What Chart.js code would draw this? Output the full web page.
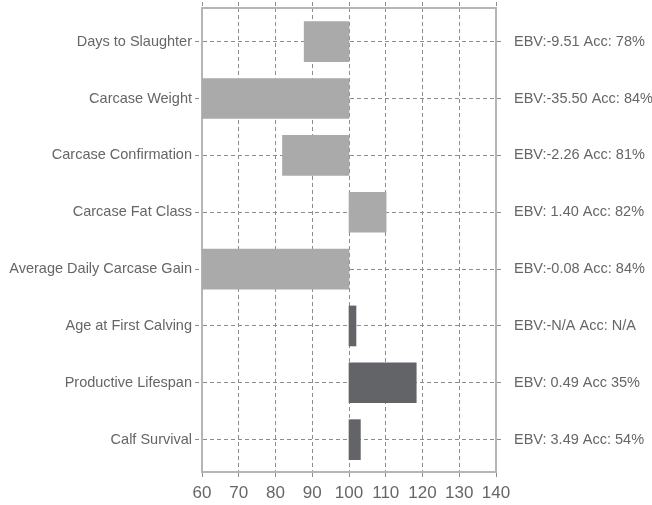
<!DOCTYPE html>
<html>
<head>
<meta charset="utf-8">
<script src="https://cdn.jsdelivr.net/npm/chart.js@4"></script>
<style>
  html, body { margin: 0; padding: 0; background: #fff; }
  #wrap { width: 652px; height: 505px; position: relative; }
</style>
</head>
<body>
<div id="wrap"><canvas id="ebvChart"></canvas></div>
<script>
// ---- data ----
const traits = [
  'Days to Slaughter',
  'Carcase Weight',
  'Carcase Confirmation',
  'Carcase Fat Class',
  'Average Daily Carcase Gain',
  'Age at First Calving',
  'Productive Lifespan',
  'Calf Survival'
];
const ebvLabels = [
  'EBV:-9.51 Acc: 78%',
  'EBV:-35.50 Acc: 84%',
  'EBV:-2.26 Acc: 81%',
  'EBV: 1.40 Acc: 82%',
  'EBV:-0.08 Acc: 84%',
  'EBV:-N/A Acc: N/A',
  'EBV: 0.49 Acc 35%',
  'EBV: 3.49 Acc: 54%'
];
const baseValue = 100;
const indexValues = [87.8, 60, 81.9, 110.1, 60, 101.9, 118.3, 103.1];
const xTicks = [60, 70, 80, 90, 100, 110, 120, 130, 140];

const LIGHT = '#aaaaaa';
const DARK = '#636468';
const barColors = traits.map((_, i) => i < 5 ? LIGHT : DARK);

const GRID = '#8c8c8c';
const FRAME = '#b5b5b5';
const TEXT = '#666666';
const FONT = "'Liberation Sans', Arial, sans-serif";
const DASH = [4, 3];

// y is linear so the rows can sit with the same margins as the original
const yMin = -0.592;
const yMax = 7.569;
const rowTicks = scale => { scale.ticks = traits.map((_, i) => ({ value: i })); };

// fixed box sizes, and no extra label padding pushing the plot around
const fixWidth = w => s => { s.width = w; s.paddingTop = 0; s.paddingBottom = 0; };
const fixHeight = h => s => { s.height = h; s.paddingLeft = 0; s.paddingRight = 0; };

const ctx = document.getElementById('ebvChart');

new Chart(ctx, {
  type: 'bar',
  data: {
    datasets: [{
      data: indexValues.map((v, i) => ({ y: i, x: [baseValue, v] })),
      backgroundColor: barColors,
      borderWidth: 0,
      barThickness: 40,
      xAxisID: 'x',
      yAxisID: 'y'
    }]
  },
  options: {
    indexAxis: 'y',
    responsive: true,
    maintainAspectRatio: false,
    animation: false,
    layout: { padding: 0 },
    plugins: {
      legend: { display: false },
      tooltip: { enabled: false }
    },
    scales: {
      x: {
        type: 'linear',
        position: 'bottom',
        min: 60,
        max: 140,
        afterBuildTicks: s => { s.ticks = xTicks.map(v => ({ value: v })); },
        afterFit: fixHeight(33),
        grid: {
          color: GRID,
          lineWidth: 1,
          tickBorderDash: DASH,
          tickLength: 8,
          tickColor: GRID
        },
        border: { color: FRAME, width: 2, dash: DASH },
        ticks: {
          color: TEXT,
          padding: 3,
          font: { family: FONT, size: 17 },
          maxRotation: 0,
          autoSkip: false
        }
      },
      xTop: {
        type: 'linear',
        position: 'top',
        min: 60,
        max: 140,
        afterBuildTicks: s => { s.ticks = xTicks.map(v => ({ value: v })); },
        afterFit: fixHeight(8),
        grid: {
          drawOnChartArea: false,
          tickLength: 6,
          tickColor: GRID,
          tickBorderDash: DASH
        },
        border: { color: FRAME, width: 2 },
        ticks: { display: false }
      },
      y: {
        type: 'linear',
        position: 'left',
        reverse: true,
        offset: false,
        min: yMin,
        max: yMax,
        afterBuildTicks: rowTicks,
        afterFit: fixWidth(202),
        grid: {
          offset: false,
          color: GRID,
          lineWidth: 1,
          tickBorderDash: DASH,
          tickLength: 7,
          tickColor: GRID
        },
        border: { color: FRAME, width: 2, dash: DASH },
        ticks: {
          color: TEXT,
          padding: 3,
          autoSkip: false,
          font: { family: FONT, size: 14.5 },
          callback: v => traits[v]
        }
      },
      yRight: {
        type: 'linear',
        position: 'right',
        reverse: true,
        offset: false,
        min: yMin,
        max: yMax,
        afterBuildTicks: rowTicks,
        afterFit: fixWidth(156),
        grid: {
          offset: false,
          drawOnChartArea: false,
          tickBorderDash: DASH,
          tickLength: 8,
          tickColor: GRID
        },
        border: { color: FRAME, width: 2 },
        ticks: {
          color: TEXT,
          padding: 10,
          autoSkip: false,
          font: { family: FONT, size: 14.5 },
          callback: v => ebvLabels[v]
        }
      }
    }
  }
});
</script>
</body>
</html>
